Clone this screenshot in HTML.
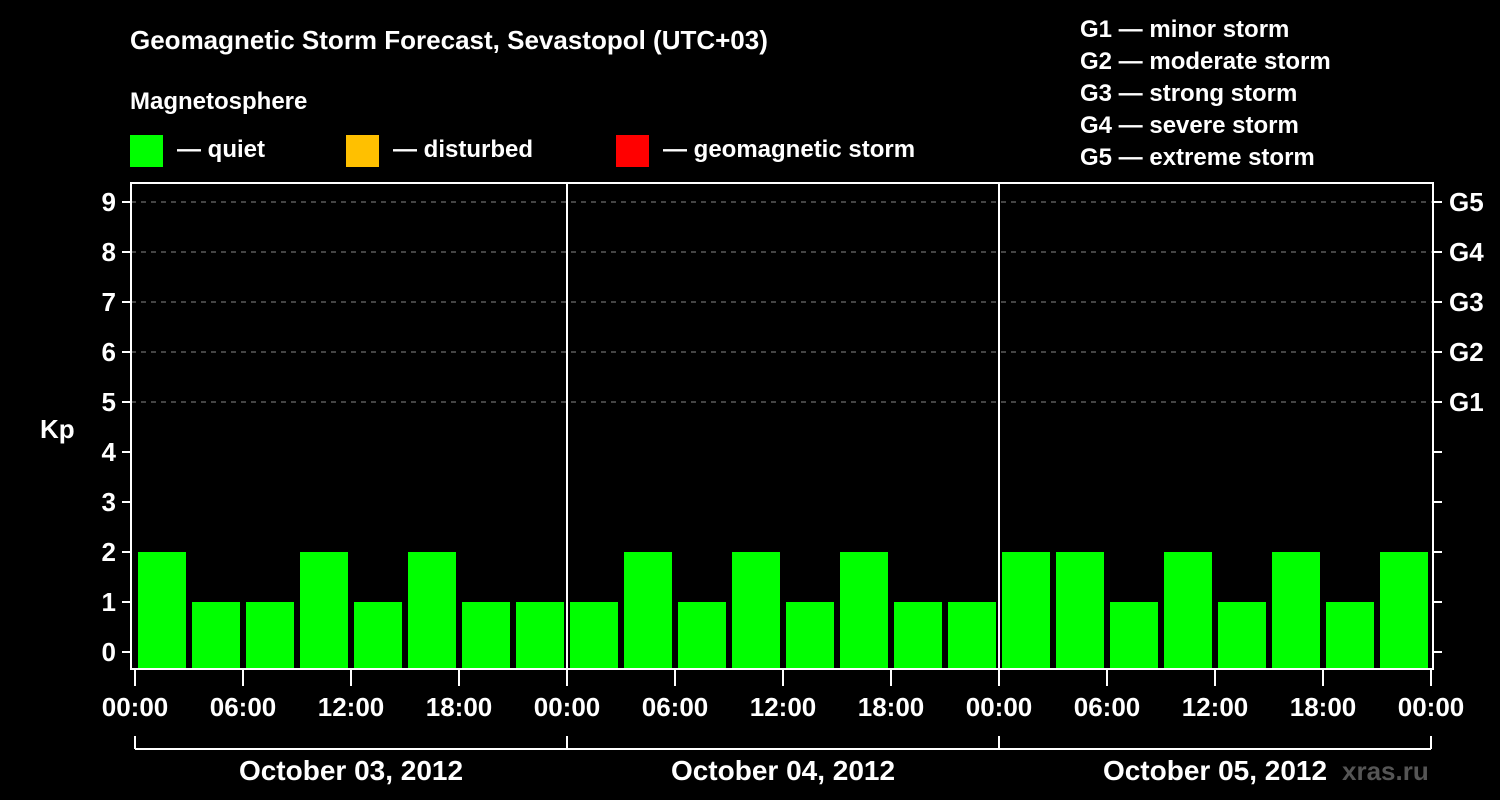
<!DOCTYPE html>
<html><head><meta charset="utf-8"><style>
body{margin:0;background:#000;}
svg{display:block;font-family:"Liberation Sans",Arial,sans-serif;font-weight:bold;}
</style></head><body>
<svg id="c" width="1500" height="800">
<g fill="#fff">
<text x="130" y="49" font-size="26">Geomagnetic Storm Forecast, Sevastopol (UTC+03)</text>
<text x="130" y="109" font-size="24">Magnetosphere</text>
<rect x="130" y="135" width="33" height="32" fill="#00ff00"/>
<text x="177" y="157" font-size="24">— quiet</text>
<rect x="346" y="135" width="33" height="32" fill="#ffc000"/>
<text x="393" y="157" font-size="24">— disturbed</text>
<rect x="616" y="135" width="33" height="32" fill="#ff0000"/>
<text x="663" y="157" font-size="24">— geomagnetic storm</text>
<text x="1080" y="37" font-size="24">G1 — minor storm</text>
<text x="1080" y="69" font-size="24">G2 — moderate storm</text>
<text x="1080" y="101" font-size="24">G3 — strong storm</text>
<text x="1080" y="133" font-size="24">G4 — severe storm</text>
<text x="1080" y="165" font-size="24">G5 — extreme storm</text>
<text x="40" y="438" font-size="26">Kp</text>
<text x="1342" y="780" font-size="26" fill="#555">xras.ru</text>
</g>
<g id="plot"></g>
</svg>
<script>
const kpValues=[2,1,1,2,1,2,1,1, 1,2,1,2,1,2,1,1, 2,2,1,2,1,2,1,2];
const yTicks=[0,1,2,3,4,5,6,7,8,9];
const gLabels=["G1","G2","G3","G4","G5"];
const gLevels=[5,6,7,8,9];
const xLabels=["00:00","06:00","12:00","18:00","00:00","06:00","12:00","18:00","00:00","06:00","12:00","18:00","00:00"];
const days=["October 03, 2012","October 04, 2012","October 05, 2012"];
const NS="http://www.w3.org/2000/svg";
const g=document.getElementById('plot');
const L=131,R=1433,T=183,B=669,X0=135,DAY=432;
const y=v=>652-50*v;
const xh=h=>X0+DAY*h/24;
function mk(t,a,p){const e=document.createElementNS(NS,t);for(const k in a)e.setAttribute(k,a[k]);(p||g).appendChild(e);return e;}
yTicks.forEach(v=>{
  if(v>=1&&gLevels.includes(v)){const l=mk('line',{x1:L,x2:R,y1:y(v),y2:y(v),stroke:'#888','stroke-dasharray':'5,5'});
  
  }
  const t1=mk('line',{x1:122,x2:L,y1:y(v),y2:y(v),stroke:'#fff','stroke-width':2});
  
  
  const t2=mk('line',{x1:R,x2:1442,y1:y(v),y2:y(v),stroke:'#fff','stroke-width':2});
  
  
  const tx=mk('text',{x:116,y:y(v)+9,'text-anchor':'end','font-size':26,fill:'#fff'});tx.textContent=v;
  
  
});
gLabels.forEach((s,i)=>{const tx=mk('text',{x:1449,y:y(gLevels[i])+9,'font-size':26,fill:'#fff'});tx.textContent=s;
  
  });
kpValues.forEach((v,i)=>{
  const c=v>=5?'#ff0000':(v>=4?'#ffc000':'#00ff00');
  const r=mk('rect',{x:xh(i*3)+3,y:y(v),width:48,height:B-1-y(v),fill:c});
  
  
});
const f=mk('rect',{x:L,y:T,width:R-L,height:B-T,fill:'none',stroke:'#fff','stroke-width':2});


[1,2].forEach(d=>{const l=mk('line',{x1:xh(24*d),x2:xh(24*d),y1:T,y2:B,stroke:'#fff','stroke-width':2});
  
  });
xLabels.forEach((s,i)=>{const x=xh(i*6);
  const tk=mk('line',{x1:x,x2:x,y1:B,y2:686,stroke:'#fff','stroke-width':2});
  
  
  const tx=mk('text',{x:x,y:716,'text-anchor':'middle','font-size':26,fill:'#fff'});tx.textContent=s;
  
  });
const br=mk('line',{x1:xh(0),x2:xh(72),y1:749,y2:749,stroke:'#fff','stroke-width':2});


[0,1,2,3].forEach(d=>{const l=mk('line',{x1:xh(24*d),x2:xh(24*d),y1:736,y2:749,stroke:'#fff','stroke-width':2});
  
  });
days.forEach((s,d)=>{const tx=mk('text',{x:xh(24*d+12),y:780,'text-anchor':'middle','font-size':28,fill:'#fff'});tx.textContent=s;
  
  });
</script>
</body></html>
